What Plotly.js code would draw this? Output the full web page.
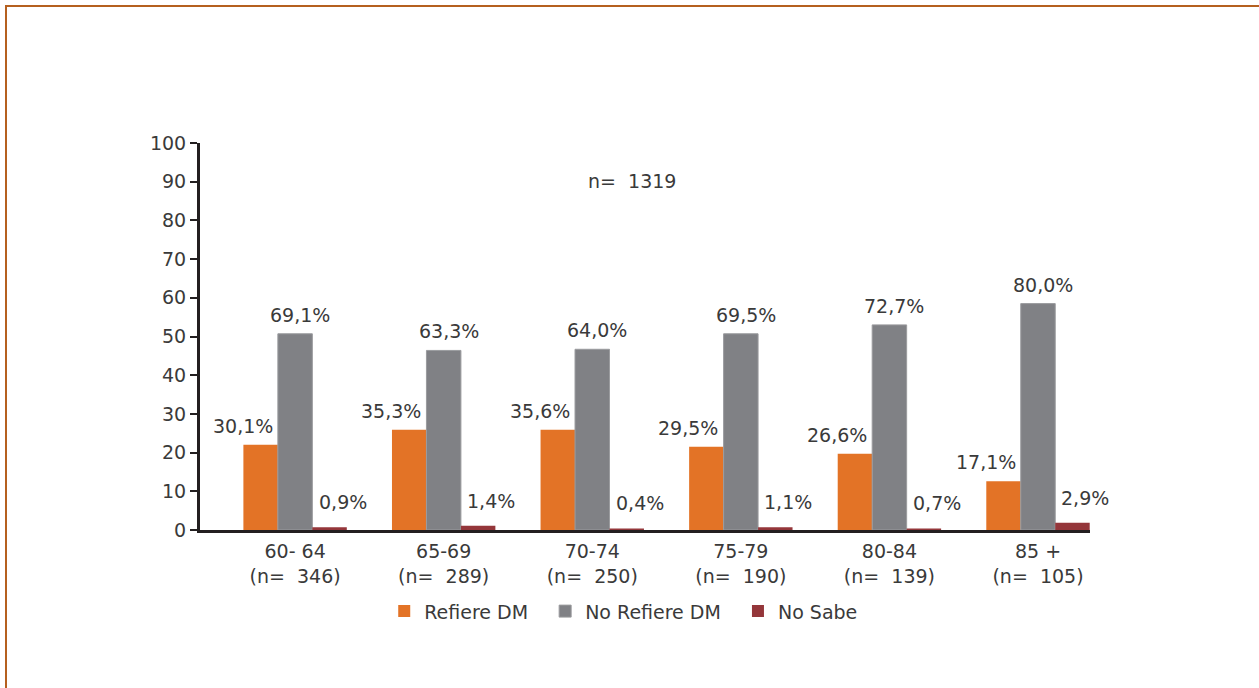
<!DOCTYPE html>
<html>
<head>
<meta charset="utf-8">
<script src="https://cdn.plot.ly/plotly-3.0.1.min.js"></script>
<style>
  html, body { margin: 0; padding: 0; background: #fff; overflow: hidden; }
  #frame { position: absolute; left: 5px; top: 5px; width: 2000px; height: 2000px;
           border-top: 2px solid #b5601f; border-left: 2px solid #b5601f; pointer-events: none; z-index: 5; }
  #graph { position: absolute; left: 0; top: 0; width: 1259px; height: 688px; }
</style>
</head>
<body>
<div id="frame"></div>
<div id="graph"></div>
<script>
// age groups (two-line tick labels)
var groups = ['60- 64<br>(n=\u00a0 346)', '65-69<br>(n=\u00a0 289)', '70-74<br>(n=\u00a0 250)',
              '75-79<br>(n=\u00a0 190)', '80-84<br>(n=\u00a0 139)', '85 +<br>(n=\u00a0 105)'];

// bar heights as drawn in the picture
var refiere   = [22.0, 25.9, 25.9, 21.5, 19.7, 12.6];
var noRefiere = [50.7, 46.4, 46.7, 50.7, 53.0, 58.5];
var noSabe    = [0.7, 1.1, 0.4, 0.7, 0.4, 1.9];

// printed labels
var refiereLbl   = ['30,1%', '35,3%', '35,6%', '29,5%', '26,6%', '17,1%'];
var noRefiereLbl = ['69,1%', '63,3%', '64,0%', '69,5%', '72,7%', '80,0%'];
var noSabeLbl    = ['0,9%', '1,4%', '0,4%', '1,1%', '0,7%', '2,9%'];

var font = 'DejaVu Sans, sans-serif';
var txtColor = '#3a3a3a';
var bargap = 0.304;
var barW = (1 - bargap) / 3;
var pad = '\u00a0\u00a0'; // extra room between legend entries

var data = [{
	x: groups, y: refiere, type: 'bar', name: 'Refiere DM' + pad,
	marker: {color: '#e37326'}
},{
	x: groups, y: noRefiere, type: 'bar', name: 'No Refiere DM' + pad,
	marker: {color: '#808185', line: {color: '#9a9b9e', width: 1}}
},{
	x: groups, y: noSabe, type: 'bar', name: 'No Sabe',
	marker: {color: '#94363a'}
}];

var annotations = [];
var series = [[refiere, refiereLbl, -18, 6], [noRefiere, noRefiereLbl, 5, 6], [noSabe, noSabeLbl, 13, 12]];
series.forEach(function(s, k) {
	for (var i = 0; i < groups.length; i++) {
		annotations.push({
			x: i + (k - 1) * barW, y: s[0][i], xref: 'x', yref: 'y',
			text: s[1][i], showarrow: false, xanchor: 'center', yanchor: 'bottom',
			xshift: s[2], yshift: s[3],
			font: {family: font, size: 19, color: txtColor}
		});
	}
});
annotations.push({
	x: 0.485, y: 0.902, xref: 'paper', yref: 'paper', text: 'n=\u00a0 1319',
	showarrow: false, xanchor: 'center', yanchor: 'middle',
	font: {family: font, size: 19, color: txtColor}
});

var layout = {
	width: 1259, height: 688,
	margin: {l: 200, r: 169, t: 143, b: 158},
	paper_bgcolor: '#fff', plot_bgcolor: '#fff',
	barmode: 'group', bargap: bargap, bargroupgap: 0,
	font: {family: font, size: 19, color: txtColor},
	showlegend: true,
	legend: {orientation: 'h', x: 0.207, y: -0.21, xanchor: 'left', yanchor: 'middle',
	         font: {family: font, size: 19, color: txtColor}, itemwidth: 30},
	xaxis: {
		type: 'category', range: [-0.64, 5.35], showline: true, linewidth: 3, linecolor: '#231f20',
		ticks: '', showgrid: false, zeroline: false, fixedrange: true, ticklabelstandoff: 2,
		tickfont: {family: font, size: 19, color: txtColor}
	},
	yaxis: {
		range: [0, 100], dtick: 10, showline: true, linewidth: 3, linecolor: '#231f20',
		ticks: 'outside', ticklen: 7, tickwidth: 2, tickcolor: '#231f20',
		showgrid: false, zeroline: false, fixedrange: true,
		tickfont: {family: font, size: 19, color: txtColor}
	},
	annotations: annotations
};

Plotly.newPlot('graph', data, layout, {displayModeBar: false, staticPlot: true});
</script>
</body>
</html>
